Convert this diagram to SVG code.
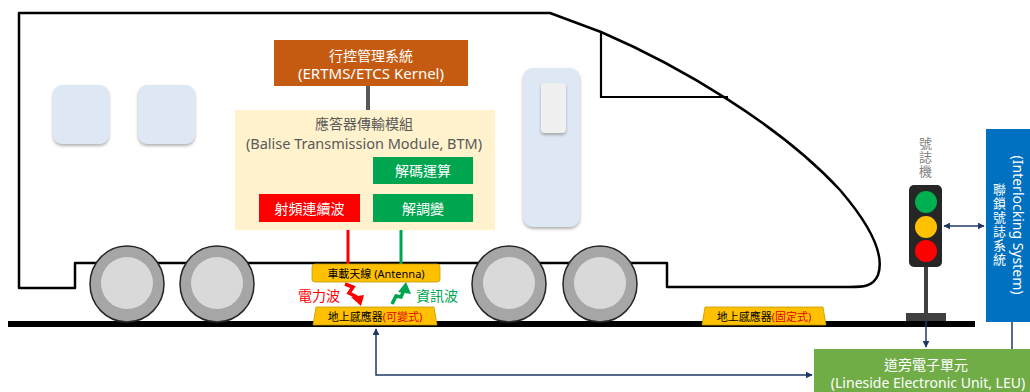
<svg xmlns="http://www.w3.org/2000/svg" width="1030" height="392" viewBox="0 0 1030 392">
  <defs>
    <style>
      text { font-family: "Noto Sans", "Noto Sans CJK TC", sans-serif; dominant-baseline: central; }
      .white { fill: #ffffff; }
      .box14 { font-size: 14px; text-anchor: middle; }
      .vert { font-size: 13px; text-anchor: middle; writing-mode: vertical-rl; letter-spacing: 1px; }
      .gray { fill: #595959; }
      .small { font-size: 11px; text-anchor: middle; fill: #000000; }
      .body { fill: #ffffff; stroke: #000000; stroke-width: 2.5; stroke-linejoin: round; }
      .wheel { fill: #a6a6a6; stroke: #262626; stroke-width: 1.5; }
      .hub { fill: #d9d9d9; }
      .win { fill: #dde8f4; filter: url(#shadow); }
      .link { fill: none; stroke: #1f3864; stroke-width: 1.5; }
      .tag { fill: #ffc000; stroke: #c49a00; stroke-width: 0.8; }
    </style>
    <filter id="shadow" x="-20%" y="-20%" width="140%" height="150%">
      <feDropShadow dx="0" dy="2" stdDeviation="1.5" flood-color="#7f7f7f" flood-opacity="0.6"/>
    </filter>
    <marker id="arr" viewBox="0 0 10 10" refX="9" refY="5" markerWidth="7" markerHeight="7" markerUnits="userSpaceOnUse" orient="auto-start-reverse">
      <path d="M0,0 L10,5 L0,10 Z" fill="#1f3864"/>
    </marker>
  </defs>

  <!-- train body -->
  <g id="train">
    <path class="body" d="M19,13 L550,13 L601,32 C680,66 780,125 840,190 C870,225 885,255 878,275 C873,287 862,287 850,287 L667,287 L667,263 L75,263 L75,288 L19,288 Z"/>
    <path fill="none" stroke="#000" stroke-width="2.2" d="M601,32 L601,97 L728,97"/>
    <rect class="win" x="53" y="85" width="56" height="59" rx="9"/>
    <rect class="win" x="138" y="85" width="57" height="59" rx="9"/>
    <rect class="win" x="523" y="68" width="57" height="159" rx="10"/>
    <rect x="541" y="83" width="25" height="50" rx="4" fill="#f0f0f0" filter="url(#shadow)"/>
  </g>

  <!-- rail -->
  <rect id="rail" x="8" y="321" width="967" height="6" fill="#000"/>

  <!-- wheels -->
  <g id="wheels">
    <ellipse class="wheel" cx="127" cy="284" rx="37" ry="38"/>
    <ellipse class="hub" cx="127" cy="283" rx="26" ry="26"/>
    <ellipse class="wheel" cx="217" cy="284" rx="37" ry="38"/>
    <ellipse class="hub" cx="217" cy="283" rx="26" ry="26"/>
    <ellipse class="wheel" cx="509" cy="284" rx="37" ry="38"/>
    <ellipse class="hub" cx="509" cy="283" rx="26" ry="26"/>
    <ellipse class="wheel" cx="600" cy="284" rx="37" ry="38"/>
    <ellipse class="hub" cx="600" cy="283" rx="26" ry="26"/>
  </g>

  <!-- connectors -->
  <g id="connectors">
    <line x1="368" y1="86" x2="368" y2="110" stroke="#595959" stroke-width="4"/>
    <line x1="348" y1="230" x2="348" y2="265" stroke="#ff0000" stroke-width="3"/>
    <line x1="401" y1="230" x2="401" y2="265" stroke="#00a550" stroke-width="3"/>
    <path class="link" d="M376,329 L376,375 L812,375" marker-start="url(#arr)" marker-end="url(#arr)"/>
    <path class="link" d="M944,226 L984,226" marker-start="url(#arr)" marker-end="url(#arr)"/>
    <path class="link" d="M926,321 L926,347" marker-end="url(#arr)"/>
    <line class="link" x1="1012" y1="322" x2="1012" y2="349"/>
    <!-- power wave (down) -->
    <polyline points="345,284 353,287 349,293 357,297" fill="none" stroke="#ff0000" stroke-width="3.5" stroke-linejoin="miter"/>
    <path d="M351,297 L364,295 L361,306 Z" fill="#ff0000"/>
    <!-- data wave (up) -->
    <polyline points="392,304 396,296 401,297 404,290" fill="none" stroke="#00a550" stroke-width="3.5" stroke-linejoin="miter"/>
    <path d="M398,292 L406,282 L411,294 Z" fill="#00a550"/>
  </g>

  <g id="kernel">
    <rect x="274" y="40" width="194" height="46" fill="#c55a11"/>
    <text class="box14 white" x="371" y="55">行控管理系統</text>
    <text class="white" x="371" y="73" font-size="15" text-anchor="middle">(ERTMS/ETCS Kernel)</text>
  </g>

  <g id="btm">
    <rect x="235" y="110" width="260" height="120" fill="#fff2cc"/>
    <text class="box14 gray" x="364" y="123">應答器傳輸模組</text>
    <text class="gray" x="364" y="142.5" font-size="14.5" text-anchor="middle">(Balise Transmission Module, BTM)</text>
  </g>

  <g id="decode">
    <rect x="373" y="157" width="100" height="27" fill="#00a550"/>
    <text class="box14 white" x="423" y="170.5">解碼運算</text>
  </g>

  <g id="demod">
    <rect x="373" y="194" width="100" height="28" fill="#00a550"/>
    <text class="box14 white" x="423" y="208">解調變</text>
  </g>

  <g id="rf">
    <rect x="259" y="194" width="101" height="28" fill="#ff0000"/>
    <text class="box14 white" x="309.5" y="208">射頻連續波</text>
  </g>

  <g id="antenna">
    <rect class="tag" x="312" y="264" width="128" height="18" rx="3"/>
    <text class="small" x="376" y="273" font-size="11.5">車載天線 (Antenna)</text>
  </g>

  <g id="wave-labels">
    <text x="319" y="295" font-size="14" text-anchor="middle" fill="#ff0000">電力波</text>
    <text x="437" y="295" font-size="14" text-anchor="middle" fill="#00a550">資訊波</text>
  </g>

  <g id="balise-variable">
    <path class="tag" d="M316,307 L434,307 L437,325 L313,325 Z"/>
    <text class="small" x="375" y="316">地上感應器<tspan fill="#e00000">(可變式)</tspan></text>
  </g>

  <g id="balise-fixed">
    <path class="tag" d="M705,307 L823,307 L826,325 L702,325 Z"/>
    <text class="small" x="764" y="316">地上感應器<tspan fill="#e00000">(固定式)</tspan></text>
  </g>

  <g id="signal">
    <text class="vert" x="925" y="158" fill="#7f7f7f">號誌機</text>
    <rect x="924" y="265" width="4" height="50" fill="#404040"/>
    <rect x="906" y="313" width="40" height="8" fill="#404040"/>
    <rect x="909" y="185" width="33" height="82" rx="5" fill="#262626"/>
    <circle cx="926" cy="202" r="11" fill="#00b050"/>
    <circle cx="926" cy="227" r="11" fill="#ffc000"/>
    <circle cx="926" cy="251" r="11" fill="#ff0000"/>
  </g>

  <g id="interlocking">
    <rect x="986" y="129" width="50" height="193" fill="#0070c0"/>
    <text class="white" font-size="14" text-anchor="middle" transform="translate(1018,225) rotate(90)">(Interlocking System)</text>
    <text class="vert white" x="999" y="225">聯鎖號誌系統</text>
  </g>

  <g id="leu">
    <rect x="814" y="349" width="220" height="45" fill="#70ad47"/>
    <text class="box14 white" x="926" y="364">道旁電子單元</text>
    <text class="box14 white" x="928" y="382">(Lineside Electronic Unit, LEU)</text>
  </g>
</svg>
